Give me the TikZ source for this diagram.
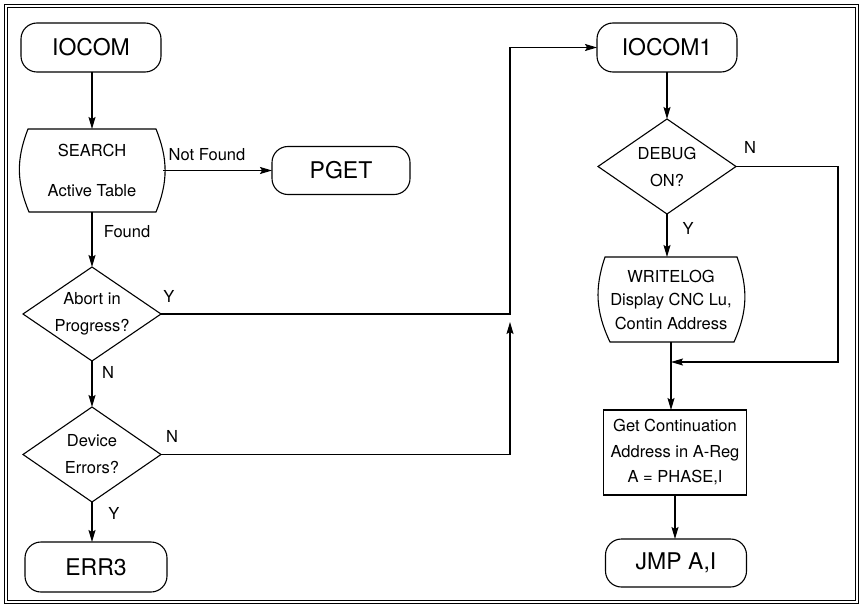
\documentclass[tikz,border=0pt]{standalone}
\usepackage{fontspec}
\setmainfont{TeX Gyre Heros}
\usetikzlibrary{arrows.meta,calc}
\begin{document}
\begin{tikzpicture}[x=1pt,y=-1pt,line width=1.1pt,
  every node/.style={inner sep=0pt,outer sep=0pt,align=center},
  term/.style={draw,rounded corners=16pt,minimum width=140pt,minimum height=49pt,font=\fontsize{23}{27}\selectfont},
  shapebox/.style={font=\fontsize{16.5}{27}\selectfont},
  lbl/.style={font=\fontsize{16.5}{19}\selectfont},
  arr/.style={-{Stealth[length=12pt,width=7pt,inset=2pt]}}]
\useasboundingbox (0,0) rectangle (862,607);
\draw[line width=0.9pt,double,double distance=1.3pt] (6,6) rectangle (857,602);

% left column
\node[term] (iocom) at (91,47.5) {IOCOM};
\node[shapebox,minimum width=142pt,minimum height=83pt,font=\fontsize{16.5}{40}\selectfont] (search) at (92,170.5) {SEARCH\\Active Table};
\draw ([xshift=7pt]search.north west) -- ([xshift=-7pt]search.north east)
  to[bend left=22] ([xshift=-7pt]search.south east)
  -- ([xshift=8pt]search.south west)
  to[bend left=22] ([xshift=7pt]search.north west) -- cycle;
\node[term,minimum width=138pt,minimum height=48pt] (pget) at (341,170.5) {PGET};
\node[shapebox,minimum width=138pt,minimum height=94pt] (abort) at (92,314) {Abort in\\Progress?};
\draw (abort.north) -- (abort.east) -- (abort.south) -- (abort.west) -- cycle;
\node[shapebox,minimum width=138pt,minimum height=95pt] (device) at (92,454.5) {Device\\Errors?};
\draw (device.north) -- (device.east) -- (device.south) -- (device.west) -- cycle;
\node[term,minimum width=142pt,minimum height=50pt] (err3) at (96,567) {ERR3};

% right column
\node[term] (iocom1) at (667,47.5) {IOCOM1};
\node[shapebox,minimum width=138pt,minimum height=95pt] (debug) at (667,166.5) {DEBUG\\ON?};
\draw (debug.north) -- (debug.east) -- (debug.south) -- (debug.west) -- cycle;
\node[shapebox,minimum width=144pt,minimum height=85pt,font=\fontsize{16.5}{23.5}\selectfont] (writelog) at (671,299.5) {WRITELOG\\Display CNC Lu,\\Contin Address};
\draw ([xshift=6pt]writelog.north west) -- ([xshift=-6pt]writelog.north east)
  to[bend left=22] ([xshift=-9pt]writelog.south east)
  -- ([xshift=11pt]writelog.south west)
  to[bend left=22] ([xshift=6pt]writelog.north west) -- cycle;
\node[shapebox,draw,minimum width=143pt,minimum height=85pt,font=\fontsize{16.5}{25.5}\selectfont] (cont) at (675,452.5) {Get Continuation\\Address in A-Reg\\A = PHASE,I};
\node[term,minimum width=141pt,minimum height=48pt] (jmp) at (676,563) {JMP A,I};

% connectors
\draw[arr] (search.north |- iocom.south) -- (search.north);
\draw[arr] (search.east) -- (pget.west);
\draw[arr] (search.south) -- (abort.north);
\draw[arr] (abort.south) -- (device.north);
\draw[arr] (device.south) -- (device.south |- err3.north);

\coordinate (bus) at (510,0);
\coordinate (devtip) at (510,322);
\draw[arr] (abort.east) -| (bus |- iocom1.west) -- (iocom1.west);
\draw[arr] (device.east) -| (devtip);

\draw[arr] (iocom1.south) -- (debug.north);
\draw[arr] (debug.south) -- (debug.south |- writelog.north);
\draw[arr] (writelog.south) -- (writelog.south |- cont.north);
\draw[arr] (cont.south) -- (cont.south |- jmp.north);
\coordinate (nr) at (838,0);
\coordinate (jn) at ($(writelog.south)+(0,20)$);
\draw[arr] (debug.east) -| (nr |- jn) -- (jn);

% labels
\node[lbl] (lnf) at (207,155) {Not Found};
\node[lbl] (lfd) at (127,232) {Found};
\node[lbl] (lay) at (169,296) {Y};
\node[lbl] (lan) at (108,372) {N};
\node[lbl] (ldn) at (172,436) {N};
\node[lbl] (ldy) at (114,513) {Y};
\node[lbl] (lbn) at (750,147) {N};
\node[lbl] (lby) at (688,228) {Y};
\end{tikzpicture}
\end{document}
